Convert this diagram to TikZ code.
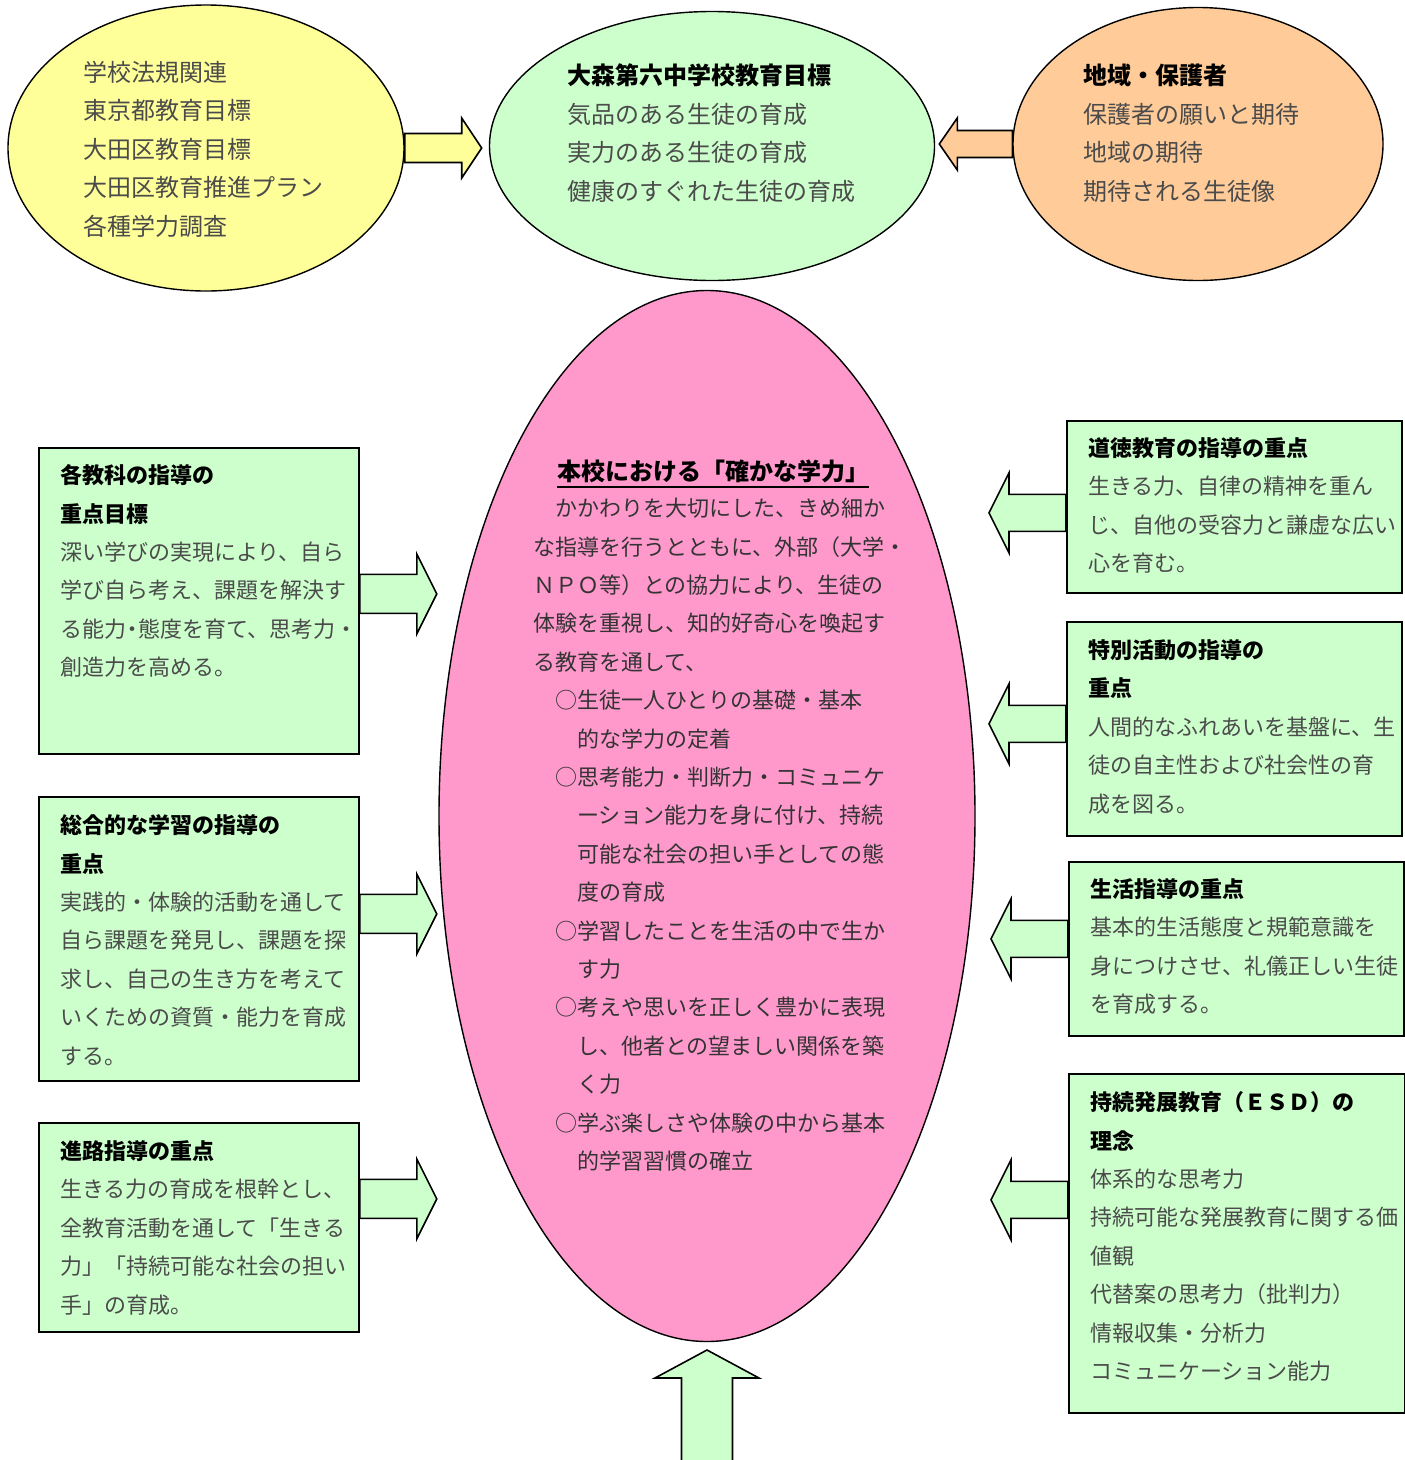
\documentclass[tikz,border=0pt]{standalone}
\usepackage{fontspec}
\setmainfont{Noto Sans CJK JP}
\usetikzlibrary{shapes.geometric,calc}
\definecolor{kiiro}{RGB}{255,255,153}
\definecolor{midori}{RGB}{204,255,204}
\definecolor{daidai}{RGB}{255,204,153}
\definecolor{momo}{RGB}{255,153,204}
\definecolor{sumi}{RGB}{75,75,75}
% block arrow: fill, start, angle, shaft length, shaft half, head half, head length
\newcommand{\blockarrow}[7]{%
  \draw[line width=1.6pt, fill=#1, shift={#2}, rotate=#3]
    (0,-#5) -- (#4,-#5) -- (#4,-#6) -- (#4+#7,0) -- (#4,#6) -- (#4,#5) -- (0,#5) -- cycle;}
\newcommand{\ttl}[1]{\textcolor{black}{\bfseries #1}}

\begin{document}
\begin{tikzpicture}[x=1pt,y=-1pt,
    every node/.style={inner sep=0pt},
    oval/.style={ellipse, draw, line width=1.4pt},
    gbox/.style={rectangle, draw, line width=1.8pt, fill=midori, anchor=north west},
    txt/.style={anchor=north west, align=left, text=sumi, font=\fontsize{22}{38.4}\selectfont},
    bigtxt/.style={txt, font=\fontsize{24}{38.5}\selectfont}]
	\useasboundingbox (0,0) rectangle (1405,1460);
	% top row
	\node[oval, fill=kiiro, minimum width=396, minimum height=286] (hoki) at (206,148) {};
	\node[oval, fill=midori, minimum width=445, minimum height=269] (mokuhyo) at (712,146) {};
	\node[oval, fill=daidai, minimum width=370, minimum height=273] (chiiki) at (1198,144) {};
	\node[bigtxt] (hokitxt) at (83,61) {学校法規関連\\東京都教育目標\\大田区教育目標\\大田区教育推進プラン\\各種学力調査};
	\node[bigtxt] (mokuhyotxt) at (567,64) {\ttl{大森第六中学校教育目標}\\気品のある生徒の育成\\実力のある生徒の育成\\健康のすぐれた生徒の育成};
	\node[bigtxt] (chiikitxt) at (1083,64) {\ttl{地域・保護者}\\保護者の願いと期待\\地域の期待\\期待される生徒像};
	\blockarrow{kiiro}{(hoki.east)}{0}{57}{14.5}{30}{20}
	\blockarrow{daidai}{(chiiki.west)}{180}{55}{13.5}{26}{18}

	% centre
	\node[oval, fill=momo, minimum width=536, minimum height=1051] (gakuryoku) at (707,816) {};
	\node[bigtxt, anchor=base west, text=black] (gtitle) at (557,480) {\bfseries 本校における「確かな学力」};
	\draw[line width=1.6pt] ($(gtitle.base west)+(0,7)$) -- ($(gtitle.base east)+(0,7)$);
	\node[txt, text=black!80] (gtxt) at (533,498) {　かかわりを大切にした、きめ細か\\な指導を行うとともに、外部（大学・\\ＮＰＯ等）との協力により、生徒の\\体験を重視し、知的好奇心を喚起す\\る教育を通して、\\
	　○生徒一人ひとりの基礎・基本\\　　的な学力の定着\\
	　○思考能力・判断力・コミュニケ\\　　ーション能力を身に付け、持続\\　　可能な社会の担い手としての態\\　　度の育成\\
	　○学習したことを生活の中で生か\\　　す力\\
	　○考えや思いを正しく豊かに表現\\　　し、他者との望ましい関係を築\\　　く力\\
	　○学ぶ楽しさや体験の中から基本\\　　的学習習慣の確立};
	\coordinate (under) at (707,1470);
	\blockarrow{midori}{(under)}{90}{92}{25.5}{52}{28}

	% left boxes
	\node[gbox, minimum width=320, minimum height=306] (kyoka) at (38,447) {};
	\node[gbox, minimum width=320, minimum height=284] (sogo) at (38,796) {};
	\node[gbox, minimum width=320, minimum height=209] (shinro) at (38,1122) {};
	\node[txt] (kyokatxt) at (60,464.5) {\ttl{各教科の指導の}\\\ttl{重点目標}\\深い学びの実現により、自ら\\学び自ら考え、課題を解決す\\る能力\kern-5pt・\kern-5pt態度を育て、思考力・\\創造力を高める。};
	\node[txt] (sogotxt) at (60,814.5) {\ttl{総合的な学習の指導の}\\\ttl{重点}\\実践的・体験的活動を通して\\自ら課題を発見し、課題を探\\求し、自己の生き方を考えて\\いくための資質・能力を育成\\する。};
	\node[txt] (shinrotxt) at (60,1140.5) {\ttl{進路指導の重点}\\生きる力の育成を根幹とし、\\全教育活動を通して「生きる\\力」「持続可能な社会の担い\\手」の育成。};
	\blockarrow{midori}{($(kyoka.east)+(0,-7)$)}{0}{57}{19.5}{40}{20}
	\blockarrow{midori}{($(sogo.east)+(0,-25)$)}{0}{57}{19.5}{40}{20}
	\blockarrow{midori}{($(shinro.east)+(0,-28.5)$)}{0}{57}{19.5}{40}{20}

	% right boxes
	\node[gbox, minimum width=335, minimum height=172] (dotoku) at (1066,420) {};
	\node[gbox, minimum width=335, minimum height=214] (tokkatsu) at (1066,621) {};
	\node[gbox, minimum width=335, minimum height=174] (seikatsu) at (1068,861) {};
	\node[gbox, minimum width=336, minimum height=339] (esd) at (1068,1073) {};
	\node[txt] (dotokutxt) at (1088,437.5) {\ttl{道徳教育の指導の重点}\\生きる力、自律の精神を重ん\\じ、自他の受容力と謙虚な広い\\心を育む。};
	\node[txt] (tokkatsutxt) at (1088,639.5) {\ttl{特別活動の指導の}\\\ttl{重点}\\人間的なふれあいを基盤に、生\\徒の自主性および社会性の育\\成を図る。};
	\node[txt] (seikatsutxt) at (1090,878.5) {\ttl{生活指導の重点}\\基本的生活態度と規範意識を\\身につけさせ、礼儀正しい生徒\\を育成する。};
	\node[txt] (esdtxt) at (1090,1091.5) {\ttl{持続発展教育（ＥＳＤ）の}\\\ttl{理念}\\体系的な思考力\\持続可能な発展教育に関する価\\値観\\代替案の思考力（批判力）\\情報収集・分析力\\コミュニケーション能力};
	\blockarrow{midori}{($(dotoku.west)+(0,6)$)}{180}{57}{18.5}{40}{20}
	\blockarrow{midori}{($(tokkatsu.west)+(0,-5)$)}{180}{57}{18.5}{40}{20}
	\blockarrow{midori}{($(seikatsu.west)+(0,-10)$)}{180}{57}{18.5}{40}{20}
	\blockarrow{midori}{($(esd.west)+(0,-43.5)$)}{180}{57}{18.5}{40}{20}
\end{tikzpicture}
\end{document}
